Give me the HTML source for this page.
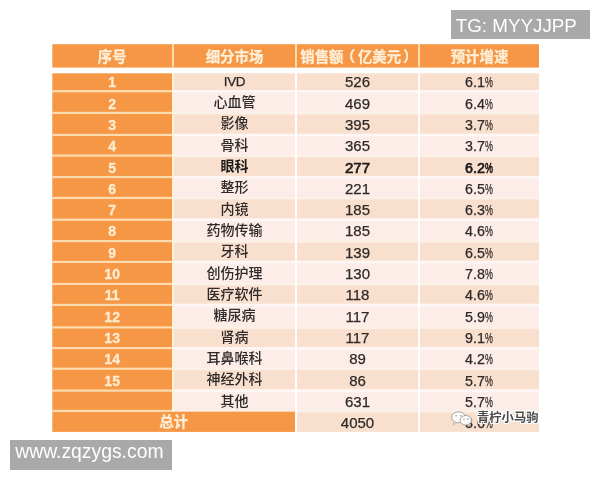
<!DOCTYPE html>
<html lang="zh-CN"><head><meta charset="utf-8"><title>细分市场</title>
<style>
html,body{margin:0;padding:0;background:#fff;}
body{width:600px;height:480px;position:relative;overflow:hidden;filter:blur(0.4px);font-family:"Liberation Sans","Noto Sans CJK SC",sans-serif;}
.bg{position:absolute;left:0;top:0;}
.t{position:absolute;text-align:center;white-space:nowrap;line-height:20px;height:20px;font-size:14px;color:#2e2a29;}
.c1{left:52.3px;width:119.7px;}
.c2{left:174px;width:121px;}
.c3{left:297px;width:121px;}
.c3.d{font-size:15px;}
.c4.d{font-size:14.3px;left:419.2px;}
.c3.hd{left:297.4px;}
.pl{position:relative;left:-2.7px;}
.pr{position:relative;left:2.2px;}
.c4{left:420px;width:119px;}
.hd{color:#ffefd8;font-weight:700;font-size:14.4px;-webkit-text-stroke:0.25px #ffefd8;}
.n{color:#ffecd0;font-weight:700;-webkit-text-stroke:0.3px #ffecd0;}
.b{font-weight:700;color:#1c1a1a;}
.d.b{font-weight:400;-webkit-text-stroke:0.7px #1c1a1a;}
.z{font-weight:500;}
.z.b{font-weight:700;}
.d{-webkit-text-stroke:0.25px #2e2a29;}
.iv{letter-spacing:-0.3px;font-size:13.5px;}
.pc{display:inline-block;transform:scaleX(0.62);transform-origin:0 50%;width:7.6px;text-align:left;}
.tag{position:absolute;background:#a9a9a9;color:#fff;white-space:nowrap;}
#tg{left:451.4px;top:10px;width:138.6px;height:29.4px;font-size:18.8px;line-height:29px;}
#tg span{position:absolute;left:4.4px;top:1px;}
#url{left:10px;top:440px;width:161.7px;height:29.7px;font-size:19.35px;line-height:29px;}
#url span{position:absolute;left:5.2px;top:-3.3px;}
#wm{position:absolute;left:477px;top:409px;font-size:12.3px;line-height:18px;color:#4a4a4a;font-weight:700;white-space:nowrap;font-family:"Liberation Sans","Noto Sans CJK SC",sans-serif;text-shadow:-1px 0 0 #fff,1px 0 0 #fff,0 -1px 0 #fff,0 1px 0 #fff,-1px -1px 0 #fff,1px 1px 0 #fff,1px -1px 0 #fff,-1px 1px 0 #fff;}
#wx{position:absolute;left:450.3px;top:409.6px;opacity:0.92;}
</style></head><body>
<svg class="bg" width="600" height="480" viewBox="0 0 600 480">
<rect x="52.3" y="44.2" width="486.7" height="23.39999999999999" fill="#f59745"/>
<rect x="172" y="44.2" width="2" height="23.39999999999999" fill="#fcdcae"/>
<rect x="295" y="44.2" width="2" height="23.39999999999999" fill="#fcdcae"/>
<rect x="418" y="44.2" width="2" height="23.39999999999999" fill="#fcdcae"/>
<rect x="52.3" y="73.3" width="119.7" height="358.59999999999997" fill="#f59745"/>
<rect x="174" y="73.30" width="365" height="16.80" fill="#f9dfce"/>
<rect x="174" y="90.10" width="365" height="21.70" fill="#fcede8"/>
<rect x="174" y="111.80" width="365" height="22.00" fill="#f9dfce"/>
<rect x="174" y="133.80" width="365" height="20.70" fill="#fcede8"/>
<rect x="174" y="154.50" width="365" height="21.45" fill="#f9dfce"/>
<rect x="174" y="175.95" width="365" height="20.90" fill="#fcede8"/>
<rect x="174" y="196.85" width="365" height="21.75" fill="#f9dfce"/>
<rect x="174" y="218.60" width="365" height="21.40" fill="#fcede8"/>
<rect x="174" y="240.00" width="365" height="20.80" fill="#f9dfce"/>
<rect x="174" y="260.80" width="365" height="22.00" fill="#fcede8"/>
<rect x="174" y="282.80" width="365" height="21.00" fill="#f9dfce"/>
<rect x="174" y="303.80" width="365" height="22.50" fill="#fcede8"/>
<rect x="174" y="326.30" width="365" height="20.70" fill="#f9dfce"/>
<rect x="174" y="347.00" width="365" height="20.65" fill="#fcede8"/>
<rect x="174" y="367.65" width="365" height="21.85" fill="#f9dfce"/>
<rect x="174" y="389.50" width="365" height="20.35" fill="#fcede8"/>
<rect x="174" y="409.85" width="365" height="22.05" fill="#f9dfce"/>
<rect x="52.3" y="90.10" width="119.7" height="2.2" fill="#fcdcae"/>
<rect x="172" y="90.20" width="367" height="2.5" fill="#ffffff" opacity="0.55"/>
<rect x="52.3" y="111.80" width="119.7" height="2.2" fill="#fcdcae"/>
<rect x="172" y="111.90" width="367" height="2.5" fill="#ffffff" opacity="0.55"/>
<rect x="52.3" y="133.80" width="119.7" height="2.2" fill="#fcdcae"/>
<rect x="172" y="133.90" width="367" height="2.5" fill="#ffffff" opacity="0.55"/>
<rect x="52.3" y="154.50" width="119.7" height="2.2" fill="#fcdcae"/>
<rect x="172" y="154.60" width="367" height="2.5" fill="#ffffff" opacity="0.55"/>
<rect x="52.3" y="175.95" width="119.7" height="2.2" fill="#fcdcae"/>
<rect x="172" y="176.05" width="367" height="2.5" fill="#ffffff" opacity="0.55"/>
<rect x="52.3" y="196.85" width="119.7" height="2.2" fill="#fcdcae"/>
<rect x="172" y="196.95" width="367" height="2.5" fill="#ffffff" opacity="0.55"/>
<rect x="52.3" y="218.60" width="119.7" height="2.2" fill="#fcdcae"/>
<rect x="172" y="218.70" width="367" height="2.5" fill="#ffffff" opacity="0.55"/>
<rect x="52.3" y="240.00" width="119.7" height="2.2" fill="#fcdcae"/>
<rect x="172" y="240.10" width="367" height="2.5" fill="#ffffff" opacity="0.55"/>
<rect x="52.3" y="260.80" width="119.7" height="2.2" fill="#fcdcae"/>
<rect x="172" y="260.90" width="367" height="2.5" fill="#ffffff" opacity="0.55"/>
<rect x="52.3" y="282.80" width="119.7" height="2.2" fill="#fcdcae"/>
<rect x="172" y="282.90" width="367" height="2.5" fill="#ffffff" opacity="0.55"/>
<rect x="52.3" y="303.80" width="119.7" height="2.2" fill="#fcdcae"/>
<rect x="172" y="303.90" width="367" height="2.5" fill="#ffffff" opacity="0.55"/>
<rect x="52.3" y="326.30" width="119.7" height="2.2" fill="#fcdcae"/>
<rect x="172" y="326.40" width="367" height="2.5" fill="#ffffff" opacity="0.55"/>
<rect x="52.3" y="347.00" width="119.7" height="2.2" fill="#fcdcae"/>
<rect x="172" y="347.10" width="367" height="2.5" fill="#ffffff" opacity="0.55"/>
<rect x="52.3" y="367.65" width="119.7" height="2.2" fill="#fcdcae"/>
<rect x="172" y="367.75" width="367" height="2.5" fill="#ffffff" opacity="0.55"/>
<rect x="52.3" y="389.50" width="119.7" height="2.2" fill="#fcdcae"/>
<rect x="172" y="389.60" width="367" height="2.5" fill="#ffffff" opacity="0.55"/>
<rect x="52.3" y="409.85" width="119.7" height="2.2" fill="#fcdcae"/>
<rect x="172" y="409.95" width="367" height="2.5" fill="#ffffff" opacity="0.55"/>
<rect x="171.5" y="411.65" width="123.5" height="20.25" fill="#f59745"/>
<rect x="172" y="73.3" width="2" height="336.55" fill="#fff3da" opacity="1"/>
<rect x="295" y="73.3" width="2" height="358.60" fill="#ffffff" opacity="0.9"/>
<rect x="418" y="73.3" width="2" height="358.60" fill="#ffffff" opacity="0.9"/>
</svg>
<div class="t c1 hd" style="top:46.60px">序号</div>
<div class="t c2 hd" style="top:46.60px">细分市场</div>
<div class="t c3 hd" style="top:46.60px">销售额<span class="pl">（</span>亿美元<span class="pr">）</span></div>
<div class="t c4 hd" style="top:46.60px">预计增速</div>
<div class="t c1 n" style="top:72.30px">1</div>
<div class="t c2 d iv" style="top:72.30px">IVD</div>
<div class="t c3 d" style="top:72.30px">526</div>
<div class="t c4 d" style="top:72.30px">6.1<span class="pc">%</span></div>
<div class="t c1 n" style="top:93.61px">2</div>
<div class="t c2 z" style="top:91.80px">心血管</div>
<div class="t c3 d" style="top:93.61px">469</div>
<div class="t c4 d" style="top:93.61px">6.4<span class="pc">%</span></div>
<div class="t c1 n" style="top:114.92px">3</div>
<div class="t c2 z" style="top:113.16px">影像</div>
<div class="t c3 d" style="top:114.92px">395</div>
<div class="t c4 d" style="top:114.92px">3.7<span class="pc">%</span></div>
<div class="t c1 n" style="top:136.23px">4</div>
<div class="t c2 z" style="top:134.52px">骨科</div>
<div class="t c3 d" style="top:136.23px">365</div>
<div class="t c4 d" style="top:136.23px">3.7<span class="pc">%</span></div>
<div class="t c1 n" style="top:157.54px">5</div>
<div class="t c2 z b" style="top:155.88px">眼科</div>
<div class="t c3 d b" style="top:157.54px">277</div>
<div class="t c4 d b" style="top:157.54px">6.2<span class="pc">%</span></div>
<div class="t c1 n" style="top:178.85px">6</div>
<div class="t c2 z" style="top:177.24px">整形</div>
<div class="t c3 d" style="top:178.85px">221</div>
<div class="t c4 d" style="top:178.85px">6.5<span class="pc">%</span></div>
<div class="t c1 n" style="top:200.16px">7</div>
<div class="t c2 z" style="top:198.60px">内镜</div>
<div class="t c3 d" style="top:200.16px">185</div>
<div class="t c4 d" style="top:200.16px">6.3<span class="pc">%</span></div>
<div class="t c1 n" style="top:221.47px">8</div>
<div class="t c2 z" style="top:219.96px">药物传输</div>
<div class="t c3 d" style="top:221.47px">185</div>
<div class="t c4 d" style="top:221.47px">4.6<span class="pc">%</span></div>
<div class="t c1 n" style="top:242.78px">9</div>
<div class="t c2 z" style="top:241.32px">牙科</div>
<div class="t c3 d" style="top:242.78px">139</div>
<div class="t c4 d" style="top:242.78px">6.5<span class="pc">%</span></div>
<div class="t c1 n" style="top:264.09px">10</div>
<div class="t c2 z" style="top:262.68px">创伤护理</div>
<div class="t c3 d" style="top:264.09px">130</div>
<div class="t c4 d" style="top:264.09px">7.8<span class="pc">%</span></div>
<div class="t c1 n" style="top:285.40px">11</div>
<div class="t c2 z" style="top:284.04px">医疗软件</div>
<div class="t c3 d" style="top:285.40px">118</div>
<div class="t c4 d" style="top:285.40px">4.6<span class="pc">%</span></div>
<div class="t c1 n" style="top:306.71px">12</div>
<div class="t c2 z" style="top:305.40px">糖尿病</div>
<div class="t c3 d" style="top:306.71px">117</div>
<div class="t c4 d" style="top:306.71px">5.9<span class="pc">%</span></div>
<div class="t c1 n" style="top:328.02px">13</div>
<div class="t c2 z" style="top:326.76px">肾病</div>
<div class="t c3 d" style="top:328.02px">117</div>
<div class="t c4 d" style="top:328.02px">9.1<span class="pc">%</span></div>
<div class="t c1 n" style="top:349.33px">14</div>
<div class="t c2 z" style="top:348.12px">耳鼻喉科</div>
<div class="t c3 d" style="top:349.33px">89</div>
<div class="t c4 d" style="top:349.33px">4.2<span class="pc">%</span></div>
<div class="t c1 n" style="top:370.64px">15</div>
<div class="t c2 z" style="top:369.48px">神经外科</div>
<div class="t c3 d" style="top:370.64px">86</div>
<div class="t c4 d" style="top:370.64px">5.7<span class="pc">%</span></div>
<div class="t c2 z" style="top:390.84px">其他</div>
<div class="t c3 d" style="top:391.95px">631</div>
<div class="t c4 d" style="top:391.95px">5.7<span class="pc">%</span></div>
<div class="t hd" style="left:52.3px;width:242.7px;top:411.76px">总计</div>
<div class="t c3 d" style="top:413.26px">4050</div>
<div class="t c4 d" style="top:413.26px">3.6<span class="pc">%</span></div>
<div class="tag" id="tg"><span>TG: MYYJJPP</span></div>
<div class="tag" id="url"><span>www.zqzygs.com</span></div>
<svg id="wx" width="24" height="17.2" viewBox="0 0 28 20">
<ellipse cx="10" cy="8.5" rx="8" ry="6.5" fill="#fff" stroke="#9a9a9a" stroke-width="1.1"/>
<path d="M5 13.5 L3.5 17 L8 14.6 Z" fill="#fff" stroke="#9a9a9a" stroke-width="0.8"/>
<ellipse cx="18.5" cy="12" rx="6.8" ry="5.6" fill="#fff" stroke="#9a9a9a" stroke-width="1.1"/>
<path d="M21.5 16.5 L23.5 19 L19.5 17.4 Z" fill="#fff" stroke="#9a9a9a" stroke-width="0.8"/>
<circle cx="7.2" cy="6.8" r="0.9" fill="#9a9a9a"/><circle cx="12.6" cy="6.8" r="0.9" fill="#9a9a9a"/>
<circle cx="16.4" cy="10.8" r="0.8" fill="#9a9a9a"/><circle cx="20.8" cy="10.8" r="0.8" fill="#9a9a9a"/>
</svg>
<div id="wm">青柠小马驹</div>
</body></html>
